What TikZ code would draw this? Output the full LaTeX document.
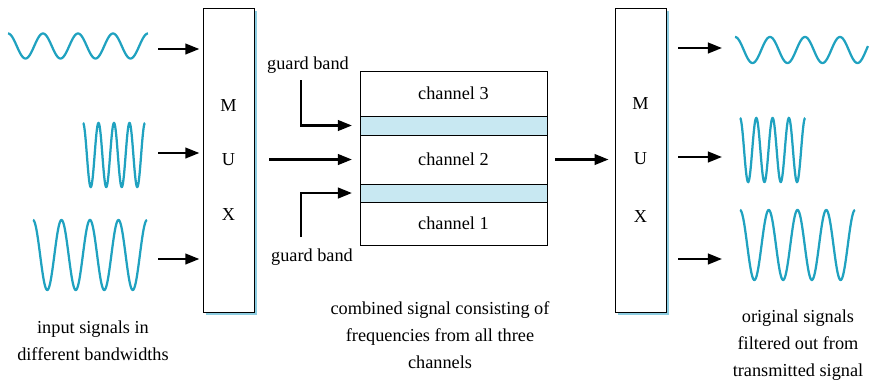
\documentclass[tikz,border=0pt]{standalone}
\usepackage{fontspec}
\setmainfont{Liberation Serif}
\usetikzlibrary{arrows.meta, positioning, calc, shadows}
\definecolor{sigcyan}{RGB}{32, 162, 192}
\definecolor{bandblue}{RGB}{200, 232, 242}
\definecolor{shadeblue}{RGB}{140, 205, 225}

% sine burst: x0, y centre, period, amplitude, cycles
\newcommand{\sigwave}[5]{%
  \draw[sig] plot[domain=0:#5, samples=200, smooth] ({#1+#3*\x}, {#2-#4*cos(360*\x)});
}

\begin{document}
\begin{tikzpicture}[
    x=0.025cm, y=-0.025cm,
    muxbox/.style={rectangle, draw, fill=white, line width=0.6pt, minimum width=1.275cm, minimum height=7.6cm,
      align=center, drop shadow={fill=shadeblue, opacity=1, shadow xshift=0.08cm, shadow yshift=-0.08cm}},
    chan/.style={rectangle, draw, fill=white, line width=0.6pt, outer sep=0pt, minimum width=4.675cm},
    band/.style={rectangle, draw, fill=bandblue, line width=0.6pt, outer sep=0pt, minimum width=4.675cm},
    arr/.style={-{Triangle[length=10pt, width=7.5pt]}, line width=1.7pt},
    sig/.style={sigcyan, line width=1.6pt},
    every node/.style={font=\fontsize{13}{19}\selectfont}
]
\useasboundingbox (0,0) rectangle (869,382);

\node[muxbox] (muxL) at (228.5,160) {M\\[20pt]U\\[20pt]X};
\node[muxbox] (muxR) at (640.5,160) {M\\[20pt]U\\[22pt]X};

\node[chan, minimum height=1.125cm] (c3) at (453.5,93.5) {channel 3};
\node[band, minimum height=0.475cm, below=0pt of c3] (gb3) {};
\node[chan, minimum height=1.225cm, below=0pt of gb3] (c2) {channel 2};
\node[band, minimum height=0.45cm, below=0pt of c2] (gb1) {};
\node[chan, minimum height=1.075cm, below=0pt of gb1] (c1) {channel 1};

% input and output signals
\sigwave{8}{46}{35}{12.5}{4}
\sigwave{83}{155}{15.5}{32}{4}
\sigwave{33}{255}{28.5}{35}{4}
\sigwave{735}{50}{35}{13}{3.8}
\sigwave{740}{150}{16.3}{32}{4}
\sigwave{740}{245}{28.75}{35}{4}

\foreach \n/\y in {1/49, 2/153, 3/259} {
    \coordinate (in\n) at (158,\y);
    \draw[arr, shorten >=0.08cm] (in\n) -- (in\n -| muxL.west);
}
\foreach \n/\y in {1/48, 2/157, 3/259} {
    \coordinate (out\n) at (722,\y);
    \draw[arr, shorten <=0.3cm] (out\n -| muxR.east) -- (out\n);
}

\draw[arr, shorten <=0.375cm, shorten >=0.2cm] (muxL.east |- c2.west) -- (c2.west);
\draw[arr, shorten <=0.2cm, shorten >=0.15cm] (c2.east) -- (c2.east -| muxR.west);

% guard band pointers
\node (gbtop) at (308,65) {guard band};
\node (gbbot) at (312,257) {guard band};
\coordinate (gt) at (301,80);
\coordinate (gb) at (301,237);
\draw[arr, shorten >=0.2cm] (gt) |- (gb3.west);
\draw[arr, shorten >=0.2cm] (gb) |- (gb1.west);

\node[align=center] (inlbl) at (93,341) {input signals in\\different bandwidths};
\node[align=center] (midlbl) at (440,335) {combined signal consisting of\\frequencies from all three\\channels};
\node[align=center] (outlbl) at (798,345) {original signals\\filtered out from\\transmitted signal};

\end{tikzpicture}
\end{document}
